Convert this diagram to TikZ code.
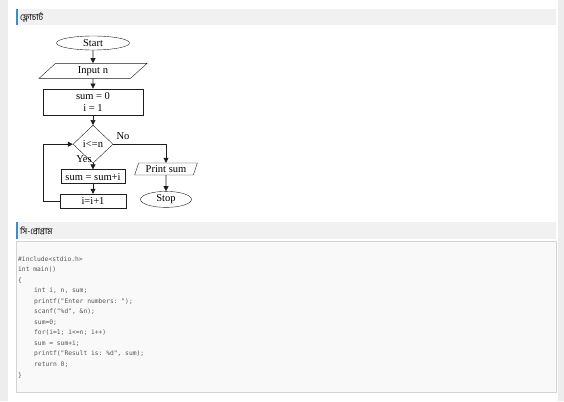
\documentclass[tikz,border=0pt]{standalone}
\usepackage{fontspec}
\setmainfont{Liberation Serif}
\setmonofont{DejaVu Sans Mono}
\newfontfamily\bnfont[Script=Bengali]{Hind Siliguri}
\usepackage{tikz}
\usetikzlibrary{arrows.meta,positioning,shapes.geometric}
\definecolor{pagegray}{HTML}{EDEDED}
\definecolor{barfill}{HTML}{F1F1F1}
\definecolor{accent}{HTML}{3C8DC5}
\definecolor{codefill}{HTML}{F9F9F9}
\definecolor{codeline}{HTML}{D3D3D3}
\definecolor{codeink}{HTML}{555555}
\definecolor{ink}{HTML}{1E1E1E}
\newcommand{\ind}{\hspace*{16pt}}

\begin{document}
\begin{tikzpicture}[
  x=1pt, y=-1pt,
  terminal/.style={draw=ink, ellipse, inner sep=0pt, font=\fontsize{10.5}{12}\selectfont},
  io/.style={draw=ink, trapezium, trapezium stretches=true, inner sep=0pt, font=\fontsize{10.5}{12}\selectfont},
  process/.style={draw=ink, rectangle, inner sep=0pt, align=center, font=\fontsize{10.5}{12}\selectfont},
  decision/.style={draw=ink, diamond, inner sep=0pt, font=\fontsize{10.5}{12}\selectfont},
  arrow/.style={-{Triangle[length=5pt,width=5pt]}, draw=ink, line width=0.6pt},
  headbar/.style={fill=barfill, draw=none},
  headtext/.style={anchor=west, inner sep=0pt, text=black, font=\bnfont\fontsize{8.5}{10}\selectfont},
  codetext/.style={anchor=north west, inner sep=0pt, align=left, text=codeink, font=\ttfamily\fontsize{6.3}{10.55}\selectfont}
]
% page
\useasboundingbox (0,0) rectangle (564,401);
\fill[pagegray] (0,0) rectangle (564,401);
\fill[white] (8,0) rectangle (558,401);

% headings
\fill[headbar] (16,9) rectangle (556,25);
\fill[accent] (16,9) rectangle (17.5,25);
\node[headtext] (flowhead) at (20,17) {ফ্লোচার্ট};
\fill[headbar] (16,222) rectangle (556,239);
\fill[accent] (16,222) rectangle (17.5,239);
\node[headtext] (codehead) at (20,230.5) {সি-প্রোগ্রাম};

% flowchart
\node[terminal, minimum width=73pt, minimum height=14pt] (start) at (93,43) {Start};
\node[io, below=13pt of start, minimum width=108pt, minimum height=15pt,
  trapezium left angle=54, trapezium right angle=126] (input) {Input n};
\node[process, below=10pt of input, minimum width=100pt, minimum height=26pt] (init) {sum = 0\\i = 1};
\node[decision, below=10pt of init, minimum width=40pt, minimum height=38pt] (cond) {i<=n};
\node[process, below=6pt of cond, minimum width=64pt, minimum height=14pt] (update) {sum = sum+i};
\node[process, below=10pt of update, minimum width=66pt, minimum height=14pt] (incr) {i=i+1};
\node[io, minimum width=63pt, minimum height=12pt,
  trapezium left angle=67, trapezium right angle=113] (print) at (166,169) {Print sum};
\node[terminal, below=16pt of print, minimum width=51pt, minimum height=16pt] (stop) {Stop};

\draw[arrow] (start) -- (input);
\draw[arrow] (input) -- (init);
\draw[arrow] (init) -- (cond);
\draw[arrow] (cond) -- node[pos=0, anchor=south east, inner sep=1pt, font=\fontsize{10.5}{12}\selectfont]{Yes} (update);
\draw[arrow] (update) -- (incr);
\draw[arrow] (incr.west) -- ++(-17pt,0) |- (cond.west);
\draw[arrow] (cond.east) -| node[pos=0, anchor=south west, xshift=2pt, yshift=3pt, inner sep=1pt, font=\fontsize{10.5}{12}\selectfont]{No} (print.north);
\draw[arrow] (print) -- (stop);

% C program
\draw[codeline, fill=codefill] (16,241.5) rectangle (556,392.5);
\node[codetext] (listing) at (18,256) {%
\#include<stdio.h>\\
int main()\\
\{\\
\ind int i, n, sum;\\
\ind printf("Enter numbers: ");\\
\ind scanf("\%d", \&n);\\
\ind sum=0;\\
\ind for(i=1; i<=n; i++)\\
\ind sum = sum+i;\\
\ind printf("Result is: \%d", sum);\\
\ind return 0;\\
\}};
\end{tikzpicture}
\end{document}
